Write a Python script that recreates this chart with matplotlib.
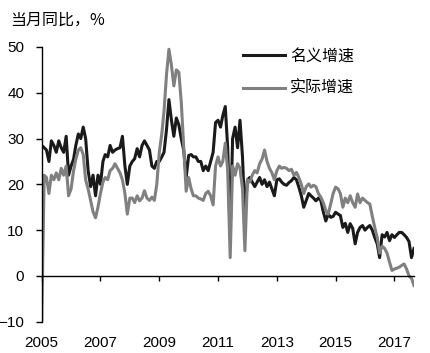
import numpy as np
import pandas as pd
import matplotlib
matplotlib.use('Agg')
import matplotlib.pyplot as plt

plt.rcParams['font.family'] = ['Liberation Sans', 'DejaVu Sans']

# monthly, Jan 2005 - Sep 2017
dates = pd.date_range('2005-01-01', periods=153, freq='MS')
tick_years = ['2005', '2007', '2009', '2011', '2013', '2015', '2017']

nominal = [
    28.5, 28, 27.5, 25, 29.5, 28.5, 27, 29.5, 28, 27, 30.5, 22,          # 2005
    24, 25.5, 28.5, 31, 30, 32.5, 30, 23, 19.5, 22, 17.5, 22,            # 2006
    20, 25, 26.5, 26, 28.5, 27, 27.5, 27.8, 28, 30.5, 24, 20,            # 2007
    24, 25, 25.6, 27.8, 26, 28.5, 29.5, 28.5, 27.5, 24, 23.5, 25,        # 2008
    25, 26, 27, 32, 38.5, 34, 30.5, 34.5, 33, 30, 27.4, 21.5,            # 2009
    26.3, 26.5, 26, 26, 25, 25, 23, 24, 23, 25, 27, 33.5,                # 2010
    34, 32.5, 35, 37, 28, 9, 30, 32.5, 28, 34, 26, 13,                   # 2011
    21, 21.5, 20.5, 19.5, 20.5, 21.5, 20, 21, 19.5, 20.5, 19, 17.5,      # 2012
    21, 21.2, 20.5, 20, 19.8, 20.4, 20.8, 21.5, 21, 19.4, 17.5, 15,      # 2013
    16.5, 18, 17.5, 17, 16.4, 17, 16.5, 14, 12, 13.5, 12.8, 13,          # 2014
    13.9, 13.5, 13.2, 10.6, 11.5, 9.5, 11.4, 10.4, 7, 9.5, 10.6, 11,     # 2015
    10, 10.6, 11, 10, 8.4, 7, 4, 9, 8.5, 9.5, 7.7, 9,                    # 2016
    8.4, 9, 9.5, 9.5, 9, 8.4, 7.5, 4, 6,                                 # 2017
]

real = [
    -10, 22, 21.5, 18, 22, 21, 22.5, 21, 23.5, 22, 24, 17.5,             # 2005
    19, 23, 25.5, 27.5, 28, 26.5, 21, 19, 16.5, 14, 12.7, 15,            # 2006
    18, 20.5, 21.5, 21, 23, 23.5, 24.5, 23.5, 22.5, 21, 18, 13.5,        # 2007
    17, 17, 16, 17.5, 16.4, 17, 18.6, 17, 16.5, 17.2, 16.5, 20,          # 2008
    27, 31, 36, 44, 49.5, 46, 41.5, 45, 44.5, 38, 28, 18.5,              # 2009
    21.5, 19, 17.5, 17.5, 17, 16.8, 16.5, 18, 18.5, 17.5, 15.5, 24,      # 2010
    26, 24, 25, 29, 23, 4, 24, 22, 24.5, 23.5, 19, 5.5,                  # 2011
    21, 20.5, 22, 23, 22.5, 24.5, 25.5, 27.5, 25, 23.5, 22.5, 21,        # 2012
    23, 24, 23.5, 23.7, 23.5, 23, 23.3, 22, 22.6, 21.5, 20, 18,          # 2013
    19.5, 20.1, 19.4, 19.8, 19.5, 18, 17.2, 16, 14.3, 13.5, 15.7, 18,    # 2014
    19.4, 19, 18, 15, 17, 16, 17.5, 16, 15, 17.9, 16, 17,                # 2015
    16.5, 16, 15.7, 13, 10.6, 8.4, 5, 6.5, 6, 5, 3, 1.2,                 # 2016
    1.5, 1.7, 1.9, 2.3, 2.6, 1.5, 0, -0.5, -2.1,                         # 2017
]

labels = ['名义增速', '实际增速']
colors = ['#1a1a1a', '#808080']

fig = plt.figure(figsize=(4.3, 3.53), dpi=100)
ax = fig.add_axes([41.7 / 430, 31.3 / 353, 372.3 / 430, 274.7 / 353])

ax.plot(dates, nominal, color=colors[0], lw=2.2, label=labels[0])
ax.plot(dates, real, color=colors[1], lw=2.2, label=labels[1])

ax.set_xlim(dates[0], dates[-1])
ax.set_ylim(-10, 50)
ax.set_yticks(range(-10, 51, 10))

ax.set_xticks(pd.to_datetime([y + '-01-01' for y in tick_years]))
ax.set_xticklabels(tick_years)

ax.spines['top'].set_visible(False)
ax.spines['right'].set_visible(False)
ax.spines['bottom'].set_position(('data', 0))
for s in ['left', 'bottom']:
    ax.spines[s].set_linewidth(1.0)
    ax.spines[s].set_color('black')

ax.tick_params(axis='x', direction='out', length=3.5, width=1, pad=40, labelsize=11)
ax.tick_params(axis='y', direction='out', length=4.5, width=1, pad=8, labelsize=11)

cjk = ['Noto Sans CJK SC', 'DejaVu Sans']
fig.text(10 / 430, 1 - 20 / 353, '当月同比，%', family=cjk, fontsize=11.5,
         va='center', ha='left')

leg = ax.legend(loc='upper left', bbox_to_anchor=(235 / 430, 1 - 40 / 353),
                bbox_transform=fig.transFigure, frameon=False, borderpad=0,
                handlelength=2.6, handletextpad=0.35, labelspacing=0.95,
                prop={'family': cjk, 'size': 11.5})

fig.savefig('out.png', dpi=100)
